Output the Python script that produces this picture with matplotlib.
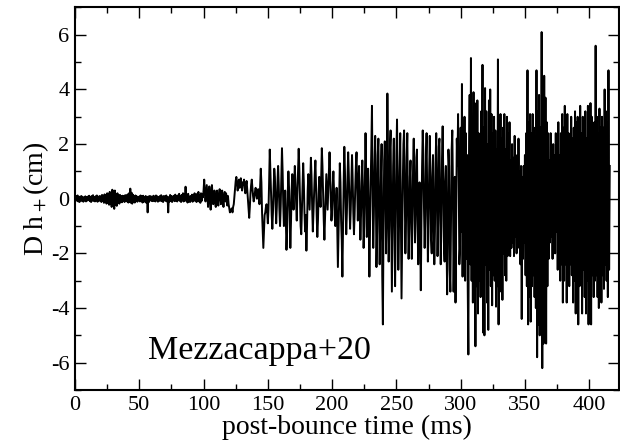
import matplotlib
matplotlib.use("Agg")
import matplotlib.pyplot as plt
from matplotlib.ticker import MultipleLocator
import numpy as np

# Gravitational-wave strain D*h_+ (cm), sampled every 0.5 ms after bounce
dt = 0.5
h_plus = [
    0.05, -0.08, 0.10, -0.06, 0.12, -0.10, 0.06, -0.12, 0.08, -0.04, 0.10, -0.09, 0.07, -0.11, 0.04, -0.06, 0.09, -0.10, 0.05, -0.07,
    0.08, -0.05, 0.11, -0.09, 0.06, -0.12, 0.10, -0.07, 0.13, -0.08, 0.05, -0.10, 0.09, -0.06, 0.12, -0.11, 0.07, -0.09, 0.10, -0.05,
    0.09, -0.12, 0.14, -0.08, 0.11, -0.15, 0.16, -0.10, 0.12, -0.18, 0.20, -0.14, 0.18, -0.22, 0.25, -0.20, 0.22, -0.30, 0.33, -0.25,
    0.28, -0.37, 0.30, -0.22, 0.18, -0.26, 0.20, -0.15, 0.12, -0.18, 0.14, -0.10, 0.09, -0.13, 0.11, -0.08, 0.10, -0.12, 0.13, -0.09,
    0.12, -0.10, 0.16, -0.14, 0.20, -0.12, 0.37, -0.15, 0.22, -0.18, 0.15, -0.12, 0.10, -0.14, 0.12, -0.08, 0.09, -0.11, 0.07, -0.06,
    0.08, -0.10, 0.12, -0.09, 0.10, -0.14, 0.11, -0.12, 0.06, -0.08, 0.10, -0.15, 0.05, -0.50, 0.08, -0.12, 0.10, -0.06, 0.09, -0.08,
    0.07, -0.09, 0.11, -0.07, 0.08, -0.10, 0.12, -0.06, 0.09, -0.11, 0.06, -0.08, 0.10, -0.07, 0.13, -0.09, 0.08, -0.12, 0.10, -0.06,
    0.09, -0.08, 0.12, -0.10, 0.05, -0.50, 0.06, -0.10, 0.14, -0.08, 0.10, -0.12, 0.08, -0.06, 0.11, -0.09, 0.15, -0.07, 0.09, -0.10,
    0.12, -0.05, 0.18, -0.08, 0.10, -0.12, 0.14, -0.06, 0.20, -0.10, 0.16, -0.08, 0.44, -0.05, 0.12, -0.14, 0.18, -0.10, 0.08, -0.12,
    0.10, -0.06, 0.15, -0.11, 0.12, -0.08, 0.20, -0.05, 0.14, -0.12, 0.18, -0.09, 0.25, -0.10, 0.12, -0.15, 0.20, -0.08, 0.16, 0.05,
    0.30, 0.70, 0.25, -0.10, 0.20, 0.50, 0.10, -0.30, 0.15, 0.45, 0.05, -0.40, 0.20, 0.50, 0.15, -0.20, 0.10, 0.30, -0.15, -0.30,
    0.10, 0.30, -0.10, -0.25, 0.15, 0.35, 0.05, -0.20, 0.20, 0.30, -0.05, -0.30, 0.10, 0.25, -0.10, 0.20, 0.05, -0.25, 0.10, -0.20,
    -0.35, -0.50, -0.40, -0.45, -0.35, -0.50, -0.30, -0.20, 0.10, 0.40, 0.65, 0.80, 0.60, 0.30, 0.50, 0.70, 0.40, 0.55, 0.75, 0.45,
    0.30, 0.60, 0.50, 0.70, 0.40, 0.20, 0.50, 0.65, 0.30, -0.10, -0.40, -0.70, -0.30, 0.20, 0.50, 0.70, 0.40, 0.10, -0.10, 0.05,
    0.25, 0.40, 0.20, 0.00, 0.15, 0.35, 0.10, -0.20, 0.50, 1.10, 0.60, -0.50, -1.20, -1.80, -1.20, -0.60, -0.50, -0.30, -0.20, -0.50,
    -0.90, -0.40, 0.60, 1.80, 1.00, 0.20, -0.60, -1.10, -0.50, 0.40, 1.10, 0.80, -0.20, -0.90, -0.30, 0.60, 1.20, 0.50, -0.40, -1.00,
    -0.30, 0.80, 1.85, 1.00, -0.20, -1.00, -0.60, 0.30, -0.80, -1.87, -1.20, 0.20, 1.00, 0.40, -0.50, -1.80, -0.90, 0.30, 0.90, 0.20,
    -0.40, 0.60, 1.20, 0.50, -0.30, -0.80, 0.20, 1.00, 1.83, 1.10, 0.00, -1.00, -1.30, -0.40, 0.50, 1.30, 0.60, -0.50, -1.20, -0.60,
    -1.90, -1.00, 0.30, 0.90, 0.20, -0.40, 0.60, 1.50, 0.80, -0.30, -1.20, -0.50, 0.30, 0.90, 1.40, 0.50, -0.60, -1.40, -0.80, 0.20,
    0.80, 0.30, -0.30, 0.70, 1.85, 1.20, 0.20, -0.80, -1.50, -0.70, 0.20, 0.90, 0.30, -0.40, 0.30, 1.00, 1.70, 0.90, -0.10, -0.80,
    -0.40, 0.50, 1.00, 0.30, -0.60, -1.00, -0.30, 0.40, -1.00, -2.50, -1.20, 0.20, 1.30, 0.60, -0.80, -1.50, -2.85, -1.00, 0.60, 1.90,
    1.00, -0.30, -1.30, -0.50, 0.80, 1.70, 0.90, -0.20, -1.10, -0.40, 0.60, 1.60, 0.70, -0.50, -1.30, -0.60, 0.40, 1.20, 1.70, 0.50,
    -0.80, 0.40, 1.20, -0.20, -1.50, -0.60, 0.60, 1.40, 0.20, -1.80, -1.00, 0.80, 2.40, 0.90, -1.40, -0.50, 1.10, -0.60, -2.85, -1.20,
    0.60, 1.80, 3.40, 0.50, -1.80, -0.60, 1.20, 2.30, 0.40, -2.50, -1.20, 1.60, 2.20, -0.20, -2.40, -1.00, 0.80, 2.00, -2.80, -4.60,
    -1.00, 1.40, 2.10, 0.30, -2.00, -0.50, 3.85, 1.20, -2.30, -1.00, 1.80, 2.50, -0.40, -3.40, -1.20, 1.20, 2.20, -0.80, -3.20, -1.00,
    1.60, 2.90, 0.50, -2.60, -1.20, 1.00, 2.40, -0.60, -3.65, -1.50, 0.60, 2.00, 2.50, 0.20, -2.00, -0.80, 1.50, 2.40, -0.40, -2.20,
    -1.10, 0.80, 1.40, -0.60, -2.20, -0.80, 1.20, 2.20, 0.30, -1.60, -0.40, 1.50, 1.80, -0.90, -2.40, -1.00, 0.60, -1.20, -3.35, -0.80,
    1.20, 2.50, 1.60, -0.40, -1.80, -0.60, 1.40, 2.40, 0.20, -2.30, -1.20, 0.90, 2.30, 0.60, -1.50, -2.00, 0.80, 1.60, -0.60, -2.40,
    -1.20, 1.30, 2.40, 0.40, -2.10, -0.80, 1.90, 2.20, -0.30, -2.40, -1.00, 1.50, 2.65, 0.70, -1.60, -2.30, 0.60, 1.20, -1.50, -3.50,
    -0.80, 1.80, 1.20, -2.60, -3.40, -1.00, 1.80, 2.50, 0.40, -3.40, -1.20, 0.80, -3.80, -1.00, 2.20, 1.20, 3.10, 0.60, -2.40, -1.80,
    2.60, -1.20, 4.20, -2.85, 1.80, -1.60, 3.00, -3.00, 2.40, -2.20, 1.60, -3.20, -5.70, 1.20, 3.80, -2.40, 5.15, -3.00, 2.60, -3.80,
    3.90, -2.60, 3.50, -5.40, 2.80, -3.20, 3.60, -4.20, 2.40, -3.00, 1.80, -3.60, 3.20, -2.20, 4.90, -4.90, 2.60, -5.00, 4.05, -2.40,
    3.20, -3.80, 2.00, -4.80, 3.60, -2.60, 4.00, -3.20, 3.10, -3.90, 2.40, -2.80, 3.00, -3.00, 2.50, -3.95, 1.80, -3.20, 5.10, -4.60,
    2.80, -3.40, 3.10, -2.40, 2.20, -3.70, 2.60, -2.00, 3.10, -2.80, 1.80, -3.00, 3.00, -2.10, 2.40, -1.60, 2.80, -2.10, 1.40, -1.80,
    2.00, -1.60, 1.50, -2.10, 2.30, -1.40, 1.20, -2.00, 1.60, -1.80, 2.20, -1.20, 1.00, -2.40, 1.20, -4.40, 0.80, -2.20, 1.20, -1.60,
    1.60, -2.80, 2.40, -3.20, 4.70, -4.60, 2.80, -3.60, 3.10, -4.50, 2.40, -3.20, 3.10, -2.80, 2.60, -3.60, 2.20, -4.00, 4.70, -5.80,
    3.20, -4.60, 3.80, -5.00, 2.60, -4.20, 6.10, -6.20, 3.60, -5.30, 4.50, -3.80, 3.70, -5.30, 2.80, -3.20, 2.40, -2.20, 1.40, -1.60,
    2.40, -1.40, 1.30, -2.20, 2.00, -1.80, 1.60, -2.00, 2.40, -1.20, 1.80, -2.60, 2.80, -2.20, 1.60, -3.00, 2.40, -2.40, 3.10, -3.80,
    2.60, -3.00, 3.40, -2.40, 2.00, -3.80, 3.10, -2.60, 2.40, -3.20, 2.00, -2.40, 3.00, -2.80, 2.20, -3.80, 2.60, -3.00, 3.20, -4.20,
    2.80, -3.40, 3.00, -4.60, 2.40, -3.20, 3.40, -2.80, 2.40, -4.20, 3.00, -2.60, 2.60, -3.60, 3.20, -4.20, 2.20, -3.00, 3.40, -4.60,
    2.80, -3.40, 3.50, -4.60, 3.00, -2.80, 2.40, -3.60, 2.80, -3.00, 5.60, -2.80, 3.00, -3.60, 2.40, -4.00, 3.30, -3.20, 2.60, -3.80,
    3.00, -2.80, 2.60, -3.30, 4.00, -2.40, 3.20, -3.00, 2.80, -3.60, 4.70, -2.60, 1.20,
]
t_ms = np.arange(len(h_plus)) * dt

model_name = "Mezzacappa+20"

plt.rcParams["font.family"] = ["Liberation Serif", "DejaVu Serif"]
plt.rcParams["mathtext.fontset"] = "stix"
plt.rcParams["axes.unicode_minus"] = False

fig = plt.figure(figsize=(6.2, 4.45), dpi=100)
ax = fig.add_axes([0.121, 0.1236, 0.877, 0.8596])

ax.plot(t_ms, h_plus, color="black", lw=1.4)

ax.set_xlim(0, 423)
ax.set_ylim(-7, 7)
ax.xaxis.set_major_locator(MultipleLocator(50))
ax.xaxis.set_minor_locator(MultipleLocator(25))
ax.yaxis.set_major_locator(MultipleLocator(2))
ax.yaxis.set_minor_locator(MultipleLocator(1))
ax.tick_params(which="both", direction="in", top=True, right=True, width=1.0,
               labelsize=16, pad=4)
ax.tick_params(which="major", length=8)
ax.tick_params(which="minor", length=4)
for sp in ax.spines.values():
    sp.set_linewidth(1.5)

ax.set_xlabel("post-bounce time (ms)", fontsize=20, labelpad=0)
ax.set_ylabel("D h$_+$(cm)", fontsize=20, labelpad=0)

ax.text(57, -5.55, model_name, fontsize=24.5, va="center")

fig.savefig("out.png", dpi=100)
